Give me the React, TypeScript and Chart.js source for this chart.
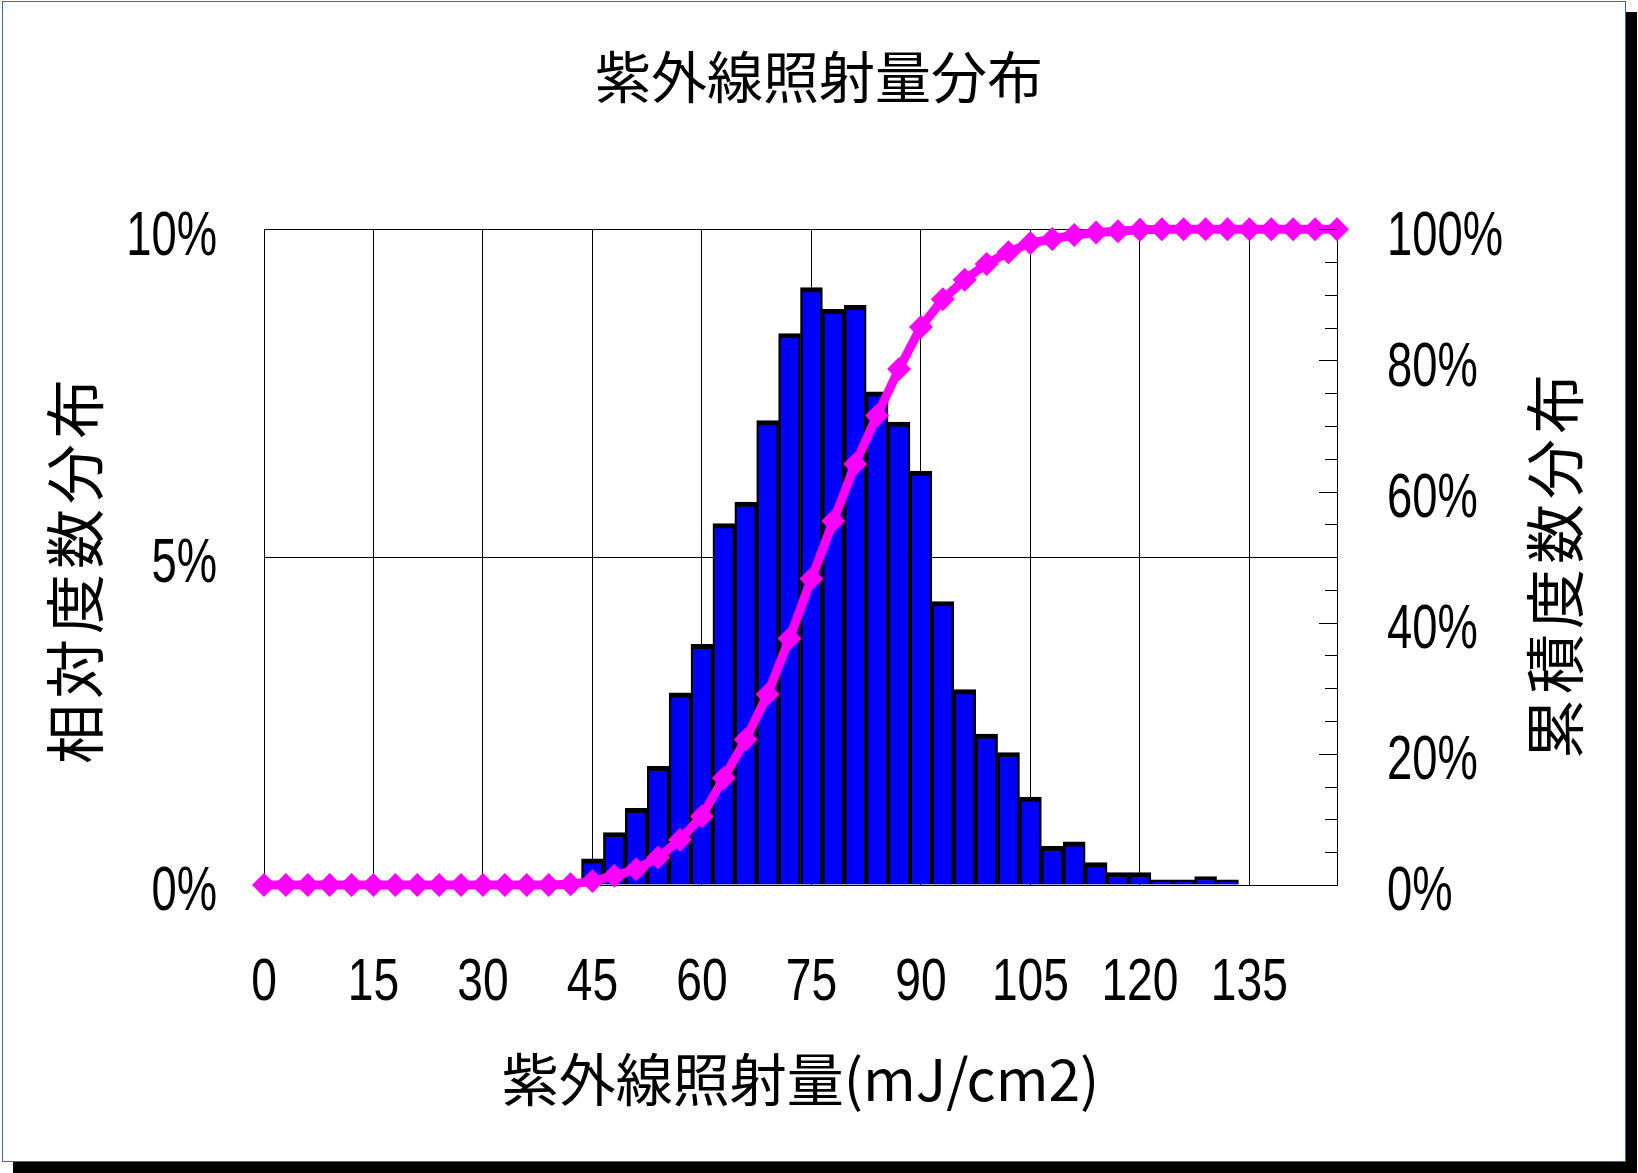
import React, { useEffect, useRef } from "react";
import { Chart, registerables } from "chart.js";

Chart.register(...registerables);

// ---------------- data ----------------
const chartTitle = "紫外線照射量分布";
const xAxisTitle = "紫外線照射量(mJ/cm2)";
const leftAxisTitle = "相対度数分布";
const rightAxisTitle = "累積度数分布";

// bin positions (mJ/cm2)
const doseValues = [
  0, 3, 6, 9, 12, 15, 18, 21, 24, 27, 30, 33, 36, 39, 42, 45, 48, 51, 54, 57,
  60, 63, 66, 69, 72, 75, 78, 81, 84, 87, 90, 93, 96, 99, 102, 105, 108, 111,
  114, 117, 120, 123, 126, 129, 132, 135, 138, 141, 144, 147,
];

// relative frequency (%)
const relativeFreq = [
  null, null, null, null, null, null, null, null, null, null, null, null, null, null,
  0.06, 0.4, 0.8, 1.17, 1.81, 2.93, 3.67, 5.51, 5.84, 7.08, 8.41, 9.11, 8.78, 8.84,
  7.52, 7.06, 6.31, 4.32, 2.98, 2.3, 2.02, 1.34, 0.59, 0.66, 0.34, 0.19, 0.19, 0.08,
  0.08, 0.13, 0.08,
  null, null, null, null, null,
];

// cumulative frequency (%)
const cumulativeFreq = [
  0, 0, 0, 0, 0, 0, 0, 0, 0, 0, 0, 0, 0, 0,
  0.1, 0.6, 1.4, 2.4, 4.2, 6.9, 10.5, 16.3, 22.2, 29.1, 37.6, 46.7, 55.5, 64.2,
  71.6, 78.7, 85.1, 89.3, 92.3, 94.7, 96.5, 97.9, 98.5, 99.1, 99.5, 99.7, 99.9,
  100, 100, 100, 100, 100, 100, 100, 100, 100,
];

const xTickValues = [0, 15, 30, 45, 60, 75, 90, 105, 120, 135];
const leftTickValues = [0, 5, 10];
const rightTickValues = [0, 20, 40, 60, 80, 100];
const rightMarkValues = [
  0, 5, 10, 15, 20, 25, 30, 35, 40, 45, 50, 55, 60, 65, 70, 75, 80, 85, 90, 95, 100,
];

const NUM_FONT = "'Liberation Sans Narrow', 'Liberation Sans', Arial, sans-serif";
const JP_FONT = "'Noto Sans CJK JP', 'Noto Sans CJK SC', sans-serif";

const decorPlugin = {
  id: "decor",
  afterDraw(chart: any) {
    const ctx = chart.ctx as CanvasRenderingContext2D;
    const area = chart.chartArea;
    const { x, y, y1 } = chart.scales;
    ctx.save();

    // inward tick marks on the right axis
    ctx.strokeStyle = "#000";
    ctx.lineWidth = 1;
    for (const v of rightMarkValues) {
      const py = Math.round(y1.getPixelForValue(v)) + 0.5;
      const len = v % 20 === 0 ? 18 : 12;
      ctx.beginPath();
      ctx.moveTo(area.right - len, py);
      ctx.lineTo(area.right, py);
      ctx.stroke();
    }

    // narrow numeric tick labels, placed from the scales' ticks
    ctx.fillStyle = "#000";
    ctx.textBaseline = "middle";
    const drawNarrow = (
      text: string,
      px: number,
      py: number,
      align: CanvasTextAlign,
      squeeze: number
    ) => {
      ctx.save();
      ctx.translate(px, py);
      ctx.scale(squeeze, 1);
      ctx.textAlign = align;
      ctx.fillText(text, 0, 0);
      ctx.restore();
    };
    ctx.font = `60px ${NUM_FONT}`;
    for (const t of x.ticks) {
      drawNarrow(String(t.value), x.getPixelForValue(t.value), area.bottom + 98, "center", 0.77);
    }
    ctx.font = `63px ${NUM_FONT}`;
    for (const t of y.ticks) {
      drawNarrow(t.value + "%", area.left - 47, y.getPixelForValue(t.value) + 8, "right", 0.72);
    }
    for (const t of y1.ticks) {
      drawNarrow(t.value + "%", area.right + 50, y1.getPixelForValue(t.value) + 8, "left", 0.72);
    }

    // vertical axis titles (both read bottom-to-top)
    ctx.font = `60px ${JP_FONT}`;
    (ctx as any).letterSpacing = "5px";
    ctx.textAlign = "center";
    ctx.textBaseline = "middle";
    const drawRot = (text: string, px: number, py: number) => {
      ctx.save();
      ctx.translate(px, py);
      ctx.rotate(-Math.PI / 2);
      ctx.fillText(text, 0, 0);
      ctx.restore();
    };
    drawRot(leftAxisTitle, area.left - 189, (area.top + area.bottom) / 2 + 12);
    drawRot(rightAxisTitle, area.right + 218, (area.top + area.bottom) / 2 + 7);
    ctx.restore();
  },
};

export default function App() {
  const canvasRef = useRef<HTMLCanvasElement | null>(null);

  useEffect(() => {
    if (!canvasRef.current) return;
    const barData = doseValues.map((v, i) => ({ x: v, y: relativeFreq[i] }));
    const lineData = doseValues.map((v, i) => ({ x: v, y: cumulativeFreq[i] }));

    const chart = new Chart(canvasRef.current, {
      type: "bar",
      data: {
        datasets: [
          {
            type: "line",
            label: rightAxisTitle,
            data: lineData as any,
            yAxisID: "y1",
            borderColor: "#FF00FF",
            borderWidth: 9,
            backgroundColor: "#FF00FF",
            pointStyle: "rectRot",
            pointRadius: 12,
            pointBorderWidth: 0,
            pointBackgroundColor: "#FF00FF",
            tension: 0,
            clip: false as any,
            order: 0,
          } as any,
          {
            type: "bar",
            label: leftAxisTitle,
            data: barData as any,
            yAxisID: "y",
            backgroundColor: "#0000FF",
            borderColor: "#000000",
            borderWidth: { top: 5, left: 2.5, right: 2.5, bottom: 0 },
            borderSkipped: false,
            barPercentage: 1,
            categoryPercentage: 1,
            order: 1,
          } as any,
        ],
      },
      options: {
        responsive: false,
        animation: false,
        events: [],
        layout: { padding: 0 },
        plugins: {
          legend: { display: false },
          tooltip: { enabled: false },
          title: {
            display: true,
            text: chartTitle,
            color: "#000",
            font: { family: JP_FONT, size: 56, weight: "normal" as any },
            padding: { top: 43, bottom: 119 },
          },
        },
        scales: {
          x: {
            type: "linear",
            min: 0,
            max: 147,
            offset: false,
            afterBuildTicks: (s: any) => {
              s.ticks = xTickValues.map((v) => ({ value: v }));
            },
            afterFit: (s: any) => {
              s.height = 288;
            },
            grid: { color: "#000", lineWidth: 1, drawTicks: false, offset: false },
            border: { display: true, color: "#000", width: 1 },
            ticks: { display: false },
            title: {
              display: true,
              text: xAxisTitle,
              color: "#000",
              font: { family: JP_FONT, size: 57 },
              padding: { top: 0, bottom: 59 },
            },
          },
          y: {
            type: "linear",
            position: "left",
            min: 0,
            max: 10,
            afterBuildTicks: (s: any) => {
              s.ticks = leftTickValues.map((v) => ({ value: v }));
            },
            afterFit: (s: any) => {
              s.width = 264;
            },
            grid: { color: "#000", lineWidth: 1, drawTicks: false },
            border: { display: true, color: "#000", width: 1 },
            ticks: { display: false },
          },
          y1: {
            type: "linear",
            position: "right",
            min: 0,
            max: 100,
            afterBuildTicks: (s: any) => {
              s.ticks = rightTickValues.map((v) => ({ value: v }));
            },
            afterFit: (s: any) => {
              s.width = 301;
            },
            grid: { drawOnChartArea: false, drawTicks: false },
            border: { display: true, color: "#000", width: 1 },
            ticks: { display: false },
          },
        },
      },
      plugins: [decorPlugin],
    });

    return () => {
      chart.destroy();
    };
  }, []);

  return (
    <div
      style={{
        position: "fixed",
        left: 0,
        top: 0,
        width: 1638,
        height: 1173,
        background: "#fff",
        overflow: "hidden",
      }}
    >
      <div
        style={{
          position: "absolute",
          left: 2,
          top: 1,
          width: 1624,
          height: 1161,
          boxSizing: "border-box",
          border: "1px solid #3a63c8",
          background: "#fff",
          boxShadow: "11px 11px 0 0 #000",
        }}
      />
      <canvas
        ref={canvasRef}
        width={1638}
        height={1173}
        style={{ position: "absolute", left: 0, top: 0, width: 1638, height: 1173 }}
      />
    </div>
  );
}
